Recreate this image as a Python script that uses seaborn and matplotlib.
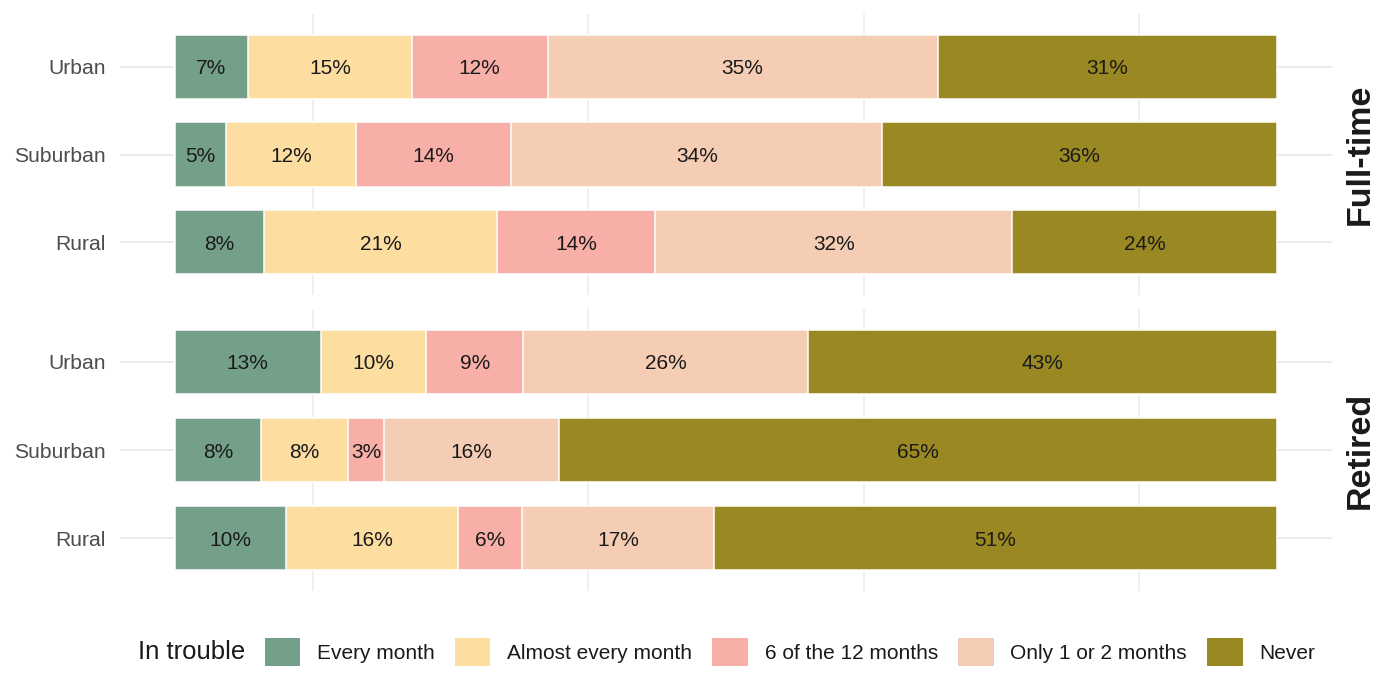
import numpy as np
import pandas as pd
import matplotlib
matplotlib.use("Agg")
import matplotlib.pyplot as plt
from matplotlib.patches import Patch
import seaborn as sns

sns.set_theme(style="white")
plt.rcParams["font.family"] = ["Liberation Sans", "DejaVu Sans"]

# ---- data ----
areas = ["Urban", "Suburban", "Rural"]
panels = ["Full-time", "Retired"]
categories = ["Every month", "Almost every month", "6 of the 12 months",
              "Only 1 or 2 months", "Never"]
colors = ["#74A089", "#FDDDA0", "#F8AFA8", "#F5CDB4", "#9A8822"]

# percentages per area (Urban, Suburban, Rural), one list per category
fulltime_every = [6.6, 4.6, 8.1]
fulltime_almost = [14.9, 11.8, 21.1]
fulltime_six = [12.3, 14.1, 14.4]
fulltime_few = [35.4, 33.7, 32.4]
fulltime_never = [30.8, 35.8, 24.0]

retired_every = [13.2, 7.8, 10.1]
retired_almost = [9.6, 7.9, 15.6]
retired_six = [8.8, 3.3, 5.8]
retired_few = [25.8, 15.8, 17.4]
retired_never = [42.6, 65.2, 51.1]

legend_title = "In trouble"

rows = []
for panel, vals in [("Full-time", [fulltime_every, fulltime_almost, fulltime_six, fulltime_few, fulltime_never]),
                    ("Retired", [retired_every, retired_almost, retired_six, retired_few, retired_never])]:
    for ci, cat in enumerate(categories):
        for ai, area in enumerate(areas):
            rows.append(dict(panel=panel, area=area, cat=cat, ci=ci, value=vals[ci][ai]))
df = pd.DataFrame(rows)
# position_fill-like normalisation
df["share"] = df["value"] / df.groupby(["panel", "area"])["value"].transform("sum") * 100
df = df.sort_values(["panel", "area", "ci"])
df["cum"] = df.groupby(["panel", "area"])["share"].cumsum()
df["mid"] = df["cum"] - df["share"] / 2

# ---- figure ----
fig = plt.figure(figsize=(14, 7), dpi=100)
L, R = 120 / 1400, 1332 / 1400
ax_pos = [(1 - 295 / 700, 1 - 14 / 700), (1 - 591 / 700, 1 - 309 / 700)]
grid_col = "#EBEBEB"

for p, panel in enumerate(panels):
    b, t = ax_pos[p]
    ax = fig.add_axes([L, b, R - L, t - b])
    sub = df[df["panel"] == panel]
    for ci in reversed(range(len(categories))):
        layer = sub[sub["ci"] == ci]
        sns.barplot(data=layer, x="cum", y="area", order=areas, orient="h",
                    color=colors[ci], saturation=1, width=0.73,
                    edgecolor="white", linewidth=1.1, ax=ax, errorbar=None)
    for _, r in sub.iterrows():
        ax.text(r["mid"], areas.index(r["area"]), f"{round(r['share'])}%",
                ha="center", va="center_baseline", fontsize=15, color="#1A1A1A")
    ax.set_xlim(-5, 105)
    ax.set_ylim(2.6, -0.6)
    ax.set_xticks([])
    ax.set_xticks([12.5, 37.5, 62.5, 87.5], minor=True)
    ax.set_yticks(range(len(areas)))
    ax.set_yticklabels(areas, fontsize=15.2, color="#4D4D4D", va="center_baseline")
    ax.tick_params(axis="y", length=0, pad=10)
    ax.tick_params(axis="x", which="both", length=0)
    ax.set_axisbelow(True)
    ax.grid(False)
    ax.grid(True, which="minor", axis="x", color=grid_col, linewidth=1.1)
    ax.grid(True, which="major", axis="y", color=grid_col, linewidth=1.4)
    ax.set_xlabel("")
    ax.set_ylabel("")
    for s in ax.spines.values():
        s.set_visible(False)
    fig.text(1360 / 1400, (b + t) / 2, panel, rotation=90, ha="center", va="center",
             fontsize=24.5, fontweight="bold", color="#1A1A1A")

handles = [Patch(facecolor=c, edgecolor="none", label=l) for c, l in zip(colors, categories)]
fig.legend(handles=handles, loc="center", bbox_to_anchor=(790 / 1400, 1 - 652 / 700),
           ncol=5, frameon=False, fontsize=15, handlelength=1.7, handleheight=1.7,
           handletextpad=0.8, columnspacing=0.98, labelcolor="#1A1A1A")
fig.text(192 / 1400, 1 - 652 / 700, legend_title, ha="center", va="center",
         fontsize=18.5, color="#1A1A1A")

fig.savefig("out.png", dpi=100, facecolor="white")
